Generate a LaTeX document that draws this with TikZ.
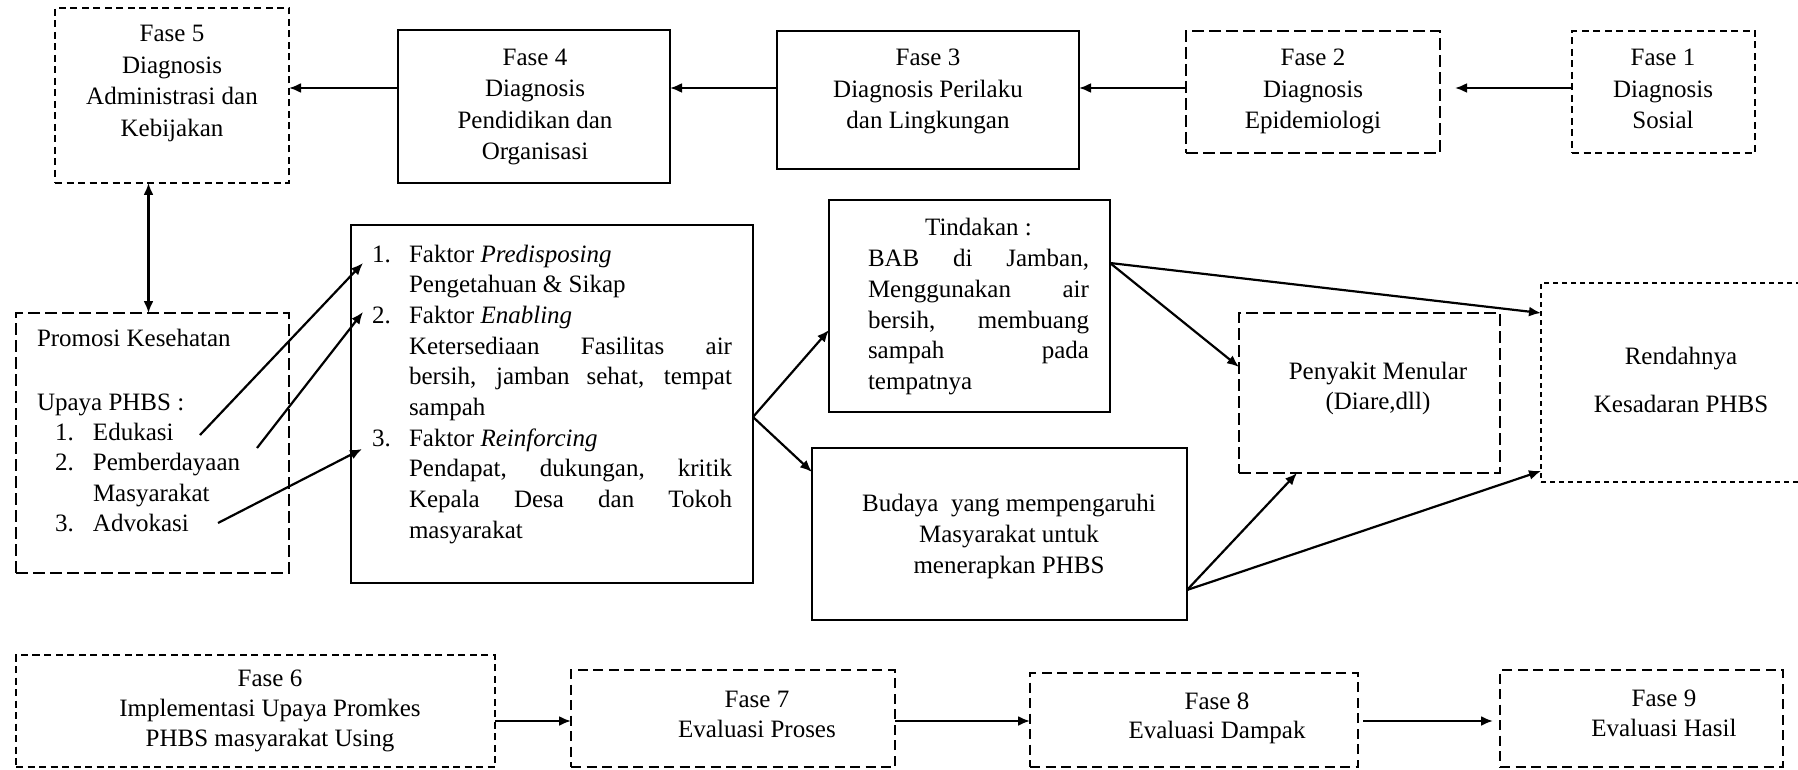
\documentclass[tikz,border=0pt]{standalone}
\usepackage{fontspec}
\setmainfont{Liberation Serif}
\usetikzlibrary{arrows.meta}
\newcommand\tstrut{\rule{0pt}{21pt}}

\begin{document}
\begin{tikzpicture}[x=1pt, y=-1pt,
  frame/.style={draw, rectangle, line width=2.2pt, inner sep=0pt, outer sep=0pt},
  solidbox/.style={frame},
  dashA/.style={frame, dash pattern=on 7pt off 4.5pt},
  dashB/.style={frame, dash pattern=on 12pt off 5pt},
  dashC/.style={frame, dash pattern=on 10pt off 5.5pt},
  dashD/.style={frame, dash pattern=on 5pt off 4pt},
  wh/.style 2 args={minimum width=#1pt, minimum height=#2pt},
  txt/.style={inner sep=0pt, outer sep=0pt, anchor=north, align=center,
    font=\fontsize{25}{30.5}\selectfont, execute at begin node=\tstrut},
  toptxt/.style={txt, font=\fontsize{25}{31.5}\selectfont},
  lowtxt/.style={txt, font=\fontsize{25}{29.5}\selectfont},
  para/.style={inner sep=0pt, outer sep=0pt, anchor=north west, align=justify,
    text width=#1pt, font=\fontsize{25}{30.5}\selectfont},
  arr/.style={line width=2.2pt, -{Latex[length=12pt,width=10pt]}},
  arrboth/.style={line width=2.2pt, {Latex[length=12pt,width=10pt]}-{Latex[length=12pt,width=10pt]}}
]
\useasboundingbox (0,0) rectangle (1798,770);
\clip (0,0) rectangle (1798,770);

% ---------- upper row: phases 5 .. 1 ----------
\node[dashA, wh={234}{175}] (f5) at (172,95.5) {};
\node[solidbox, wh={272}{153}] (f4) at (534,106.5) {};
\node[solidbox, wh={302}{138}] (f3) at (928,100) {};
\node[dashB, wh={254}{122}] (f2) at (1313,92) {};
\node[dashA, wh={183}{122}] (f1) at (1663.5,92) {};

\node[toptxt] (t5) at (172,25.5) {Fase 5\\Diagnosis\\Administrasi dan\\Kebijakan};
\node[toptxt] (t4) at (535,49) {Fase 4\\Diagnosis\\Pendidikan dan\\Organisasi};
\node[toptxt] (t3) at (928,49) {Fase 3\\Diagnosis Perilaku\\dan Lingkungan};
\node[toptxt] (t2) at (1313,49) {Fase 2\\Diagnosis\\Epidemiologi};
\node[toptxt] (t1) at (1663,49) {Fase 1\\Diagnosis\\Sosial};

% ---------- middle: causes and effects ----------
\node[dashB, wh={273}{260}] (promosi) at (152.5,443) {};
\node[solidbox, wh={402}{358}] (faktor) at (552,404) {};
\node[solidbox, wh={281}{212}] (tindakan) at (969.5,306) {};
\node[solidbox, wh={375}{172}] (budaya) at (999.5,534) {};
\node[dashB, wh={261}{160}] (penyakit) at (1369.5,393) {};
\node[dashD, wh={260}{199}] (rendah) at (1671,382.5) {};

\node[txt, anchor=north west, align=left, font=\fontsize{25}{30.2}\selectfont] (tp) at (37,329)
  {Promosi Kesehatan\\[34pt]Upaya PHBS :\\
   \hspace*{18pt}\makebox[38pt][l]{1.}Edukasi\\
   \hspace*{18pt}\makebox[38pt][l]{2.}Pemberdayaan\\
   \hspace*{56pt}Masyarakat\\
   \hspace*{18pt}\makebox[38pt][l]{3.}Advokasi};

\node[para=360, font=\fontsize{25}{30.7}\selectfont] (tk) at (372,241)
  {\tolerance=10000\hbadness=10000
   \noindent\tstrut\hangindent=37pt\hangafter=1\makebox[37pt][l]{1.}Faktor \textit{Predisposing}\newline Pengetahuan \& Sikap\par
   \noindent\hangindent=37pt\hangafter=1\makebox[37pt][l]{2.}Faktor \textit{Enabling}\newline Ketersediaan Fasilitas air\linebreak bersih, jamban sehat, tempat\linebreak sampah\par
   \noindent\hangindent=37pt\hangafter=1\makebox[37pt][l]{3.}Faktor \textit{Reinforcing}\newline Pendapat, dukungan, kritik\linebreak Kepala Desa dan Tokoh\linebreak masyarakat\par};

\node[para=221] (tt) at (868,214)
  {\tolerance=10000\hbadness=10000
   {\centering\tstrut Tindakan :\par}\vskip1.5pt
   \noindent BAB di Jamban,\linebreak Menggunakan air\linebreak bersih, membuang\linebreak sampah pada\linebreak tempatnya\par};

\node[txt, font=\fontsize{25}{31}\selectfont] (tb) at (1009,494)
  {Budaya~ yang mempengaruhi\\Masyarakat untuk\\menerapkan PHBS};
\node[txt, font=\fontsize{25}{30}\selectfont] (tpen) at (1378,362)
  {Penyakit Menular\\(Diare,dll)};
\node[txt] (tr) at (1681,347.5) {Rendahnya\\[17.5pt]Kesadaran PHBS};

% ---------- lower row: phases 6 .. 9 ----------
\node[dashA, wh={479}{112}] (f6) at (255.5,711) {};
\node[dashC, wh={324}{97}] (f7) at (733,718.5) {};
\node[dashC, wh={328}{94}] (f8) at (1194,720) {};
\node[dashC, wh={283}{97}] (f9) at (1641.5,718.5) {};

\node[lowtxt, font=\fontsize{25}{30}\selectfont] (t6) at (270,670)
  {Fase 6\\Implementasi Upaya Promkes\\PHBS masyarakat Using};
\node[lowtxt] (t7) at (757,691.5) {Fase 7\\Evaluasi Proses};
\node[lowtxt] (t8) at (1217,692.5) {Fase 8\\Evaluasi Dampak};
\node[lowtxt] (t9) at (1664,690) {Fase 9\\Evaluasi Hasil};

% ---------- helper points ----------
\coordinate (rowA) at (0,88);
\coordinate (rowB) at (0,721);
\coordinate (colA) at (148.5,0);
\coordinate (e1) at (200,435);
\coordinate (e2) at (257,448);
\coordinate (e3) at (218,523);
\coordinate (k1) at (363,263);
\coordinate (k2) at (363,312);
\coordinate (k3) at (362,449);
\coordinate (fkOut) at ([yshift=-13pt]faktor.east);
\coordinate (tdIn) at ([yshift=-24pt]tindakan.west);
\coordinate (bdIn) at ([yshift=62pt]budaya.west);
\coordinate (tdOut) at ([yshift=43pt]tindakan.east);
\coordinate (pyIn) at ([yshift=26pt]penyakit.west);
\coordinate (rdInA) at ([yshift=69.5pt]rendah.west);
\coordinate (bdOut) at ([yshift=-56pt]budaya.east);
\coordinate (pyInB) at ([xshift=-72.5pt]penyakit.south);
\coordinate (rdInB) at ([yshift=-88.5pt]rendah.west);

% ---------- connectors ----------
\draw[arr, shorten >=15pt] (f1.west |- rowA) -- (f2.east |- rowA);
\draw[arr] (f2.west |- rowA) -- (f3.east |- rowA);
\draw[arr] (f3.west |- rowA) -- (f4.east |- rowA);
\draw[arr] (f4.west |- rowA) -- (f5.east |- rowA);
\draw[arrboth] (f5.south -| colA) -- (promosi.north -| colA);

\draw[arr] (e1) -- (k1);
\draw[arr] (e2) -- (k2);
\draw[arr] (e3) -- (k3);

\draw[arr] (fkOut) -- (tdIn);
\draw[arr] (fkOut) -- (bdIn);
\draw[arr] (tdOut) -- (pyIn);
\draw[arr] (tdOut) -- (rdInA);
\draw[arr] (bdOut) -- (pyInB);
\draw[arr] (bdOut) -- (rdInB);

\draw[arr] (f6.east |- rowB) -- (f7.west |- rowB);
\draw[arr] (f7.east |- rowB) -- (f8.west |- rowB);
\draw[arr, shorten <=5pt, shorten >=7pt] (f8.east |- rowB) -- (f9.west |- rowB);
\end{tikzpicture}
\end{document}
